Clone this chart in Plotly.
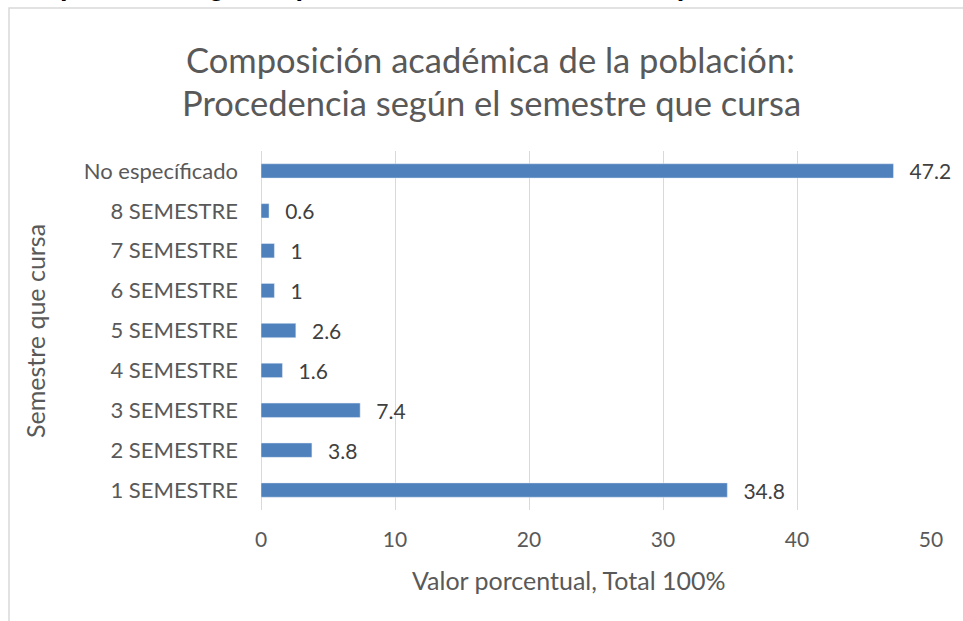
import plotly.graph_objects as go

categorias = ["1 SEMESTRE", "2 SEMESTRE", "3 SEMESTRE", "4 SEMESTRE", "5 SEMESTRE",
              "6 SEMESTRE", "7 SEMESTRE", "8 SEMESTRE", "No específicado"]
valores = [34.8, 3.8, 7.4, 1.6, 2.6, 1, 1, 0.6, 47.2]
etiquetas = ["34.8", "3.8", "7.4", "1.6", "2.6", "1", "1", "0.6", "47.2"]

FUENTE = "Lato, 'Open Sans', sans-serif"
GRIS = "#595959"

W, H = 963, 621
L, R, T, B = 261, 32, 151, 111
PW, PH = W - L - R, H - T - B


# pixel -> paper coordinates
def px(x):
    return (x - L) / PW


def py(y):
    return (H - B - y) / PH


fig = go.Figure(go.Bar(
    x=valores, y=categorias, orientation="h",
    marker=dict(color="#4F81BD"),
    width=0.36,
    text=etiquetas, textposition="outside", cliponaxis=False,
    texttemplate="\u2002\u2009%{text}",
    constraintext="none",
    textfont=dict(size=21, color="#404040", family=FUENTE),
))

fig.update_layout(
    width=W, height=H,
    paper_bgcolor="white", plot_bgcolor="white",
    margin=dict(l=L, r=R, t=T, b=B, autoexpand=False),
    font=dict(family=FUENTE, color=GRIS),
    showlegend=False,
    shapes=[dict(type="rect", xref="paper", yref="paper",
                 x0=px(9), x1=px(990), y0=py(640), y1=py(8),
                 line=dict(color="#D9D9D9", width=1.5), layer="below")],
    annotations=[
        dict(text="<b>Composición según la procedencia académica de la población inde</b>",
             xref="paper", yref="paper", x=px(-2), y=py(3),
             xanchor="left", yanchor="bottom", showarrow=False,
             font=dict(size=27, color="black", family="'Liberation Sans', Arial")),
        dict(text="Composición académica de la población:",
             xref="paper", yref="paper", x=px(490), y=py(59),
             xanchor="center", yanchor="middle", showarrow=False,
             font=dict(size=34.5, color=GRIS)),
        dict(text="Procedencia según el semestre que cursa",
             xref="paper", yref="paper", x=px(491), y=py(102),
             xanchor="center", yanchor="middle", showarrow=False,
             font=dict(size=34.5, color=GRIS)),
        dict(text="Valor porcentual, Total 100%",
             xref="paper", yref="paper", x=px(568), y=py(580),
             xanchor="center", yanchor="middle", showarrow=False,
             font=dict(size=25, color=GRIS)),
        dict(text="Semestre que cursa",
             xref="paper", yref="paper", x=px(35), y=py(331),
             xanchor="center", yanchor="middle", showarrow=False, textangle=-90,
             font=dict(size=25, color=GRIS)),
    ],
)

fig.update_xaxes(
    range=[0, 50], dtick=10, automargin=False,
    showgrid=True, gridcolor="#D9D9D9", gridwidth=1,
    zeroline=True, zerolinecolor="#D9D9D9", zerolinewidth=1,
    showline=False, ticks="",
    tickfont=dict(size=21, color=GRIS),
    ticklabelstandoff=15,
)
fig.update_yaxes(
    automargin=False,
    showgrid=False, ticks="", showline=False,
    tickfont=dict(size=22, color=GRIS),
    ticklabelstandoff=22,
)

fig.write_html("out.html", config={"displayModeBar": False},
               post_script="document.body.style.margin='0';")
